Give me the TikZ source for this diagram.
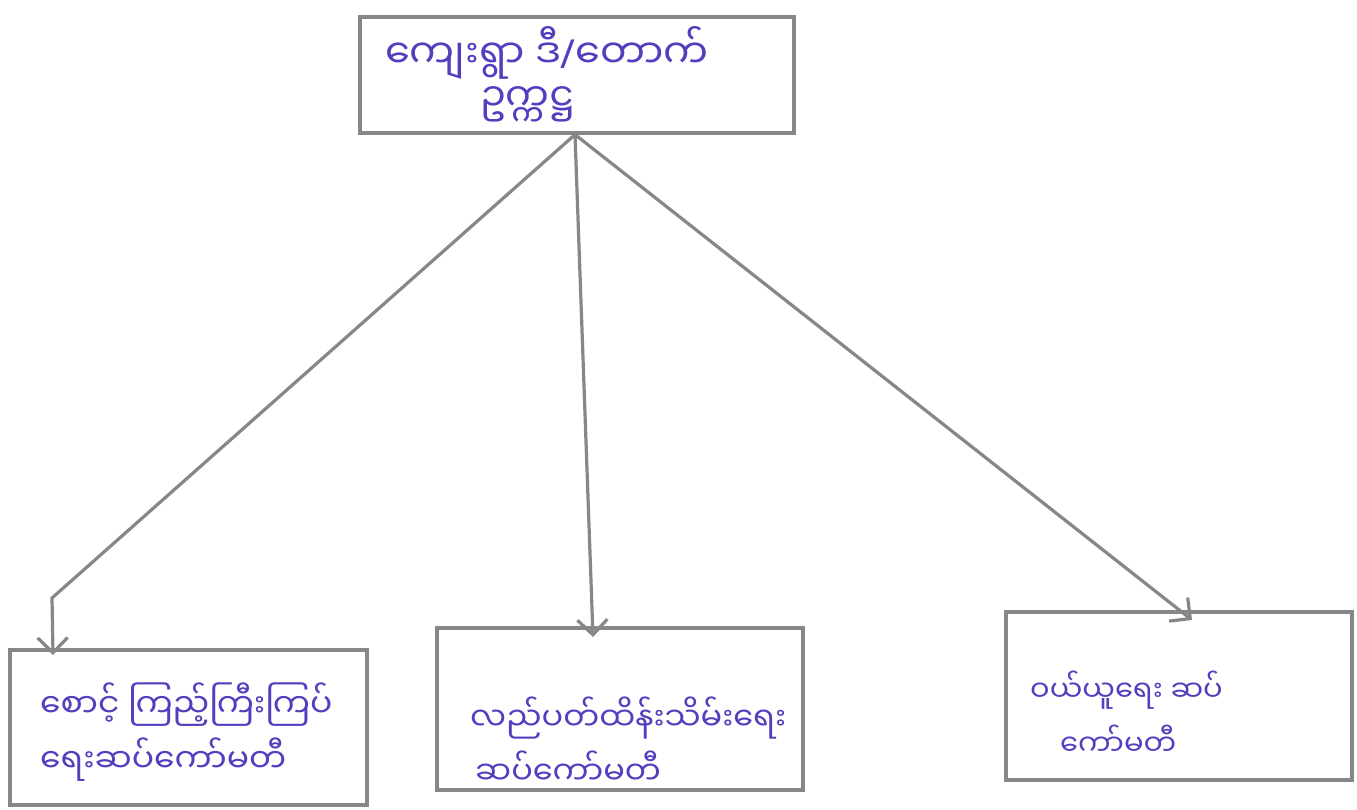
\documentclass[tikz,border=0pt]{standalone}
\usepackage{fontspec}
\newfontfamily\mya[Script=Myanmar]{Noto Sans Myanmar UI}
\newfontfamily\lat{Noto Sans}
\usetikzlibrary{arrows.meta,calc}
\definecolor{ink}{RGB}{82,62,190}
\definecolor{pencil}{RGB}{135,135,135}
\begin{document}
\begin{tikzpicture}[x=1pt,y=-1pt,
  box/.style={draw=pencil,line width=3.2pt,rectangle,inner sep=0pt},
  lbl/.style={text=ink,font=\mya\fontsize{32}{52}\selectfont,align=left,anchor=west,inner sep=0pt},
  conn/.style={draw=pencil,line width=3.2pt,-{Straight Barb[length=15pt,width=30pt,line width=3.2pt]}}]
\useasboundingbox (0,0) rectangle (1357,810);
\fill[white] (0,0) rectangle (1357,810);
% boxes
\node[box,minimum width=434pt,minimum height=116pt] (top) at (577,75) {};
\node[box,minimum width=357pt,minimum height=155pt] (bl) at (188.5,727.5) {};
\node[box,minimum width=366pt,minimum height=162pt] (bm) at (620,709) {};
\node[box,minimum width=346pt,minimum height=168pt] (br) at (1179,696) {};
% texts
\node[lbl,font=\mya\fontsize{40}{52}\selectfont] (t1) at (385,53) {ကျေးရွာ ဒီ{\lat\fontsize{40}{52}\selectfont/}တောက်};
\node[lbl,font=\mya\fontsize{39}{52}\selectfont] (t2) at (480,104) {ဥက္ကဋ္ဌ};
\node[lbl,font=\mya\fontsize{33}{52}\selectfont] (b1) at (40,705) {စောင့် ကြည့်ကြီးကြပ်};
\node[lbl,font=\mya\fontsize{33}{52}\selectfont] (b2) at (40,760) {ရေးဆပ်ကော်မတီ};
\node[lbl] (m1) at (470,718) {လည်ပတ်ထိန်းသိမ်းရေး};
\node[lbl] (m2) at (475,768) {ဆပ်ကော်မတီ};
\node[lbl,font=\mya\fontsize{29}{52}\selectfont] (r1) at (1030,690) {ဝယ်ယူရေး ဆပ်};
\node[lbl,font=\mya\fontsize{29}{52}\selectfont] (r2) at (1060,740) {ကော်မတီ};
% connectors
\coordinate (apex) at ($(top.south)+(-2,0)$);
\coordinate (bend) at (52,598);
\coordinate (tipl) at (53,655);
\coordinate (tipm) at (593,637);
\coordinate (tipr) at (1192,620);
\draw[conn] (apex) -- (bend) -- (tipl);
\draw[conn] (apex) -- (tipm);
\draw[conn] (apex) -- (tipr);
\end{tikzpicture}
\end{document}
